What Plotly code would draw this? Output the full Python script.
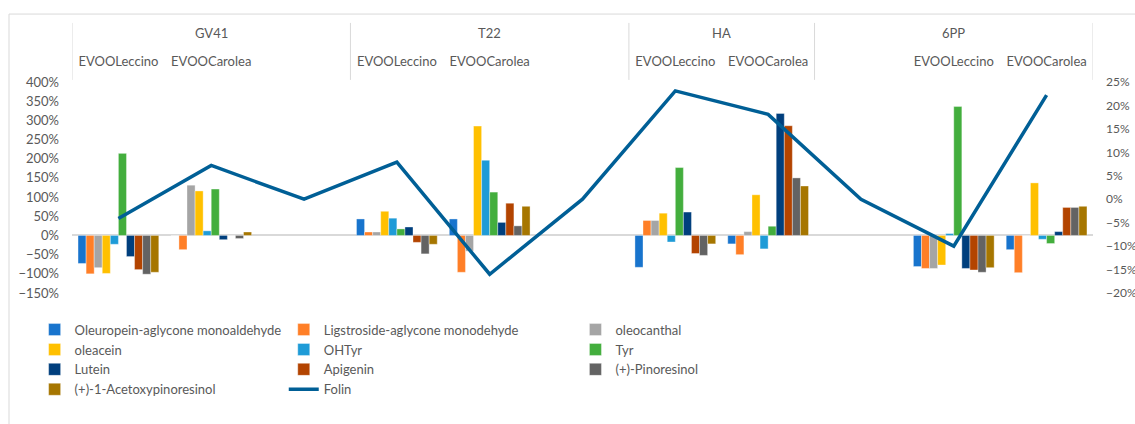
import plotly.graph_objects as go

# ---------------- data ----------------
groups = ["GV41", "GV41", "GV41", "T22", "T22", "T22", "HA", "HA", "6PP", "6PP", "6PP"]
cultivars = ["EVOOLeccino", "EVOOCarolea", "", "EVOOLeccino", "EVOOCarolea", "",
             "EVOOLeccino", "EVOOCarolea", "", "EVOOLeccino", "EVOOCarolea"]

series_names = [
    "Oleuropein-aglycone monoaldehyde", "Ligstroside-aglycone monodehyde", "oleocanthal",
    "oleacein", "OHTyr", "Tyr",
    "Lutein", "Apigenin", "(+)-Pinoresinol",
    "(+)-1-Acetoxypinoresinol",
]

oleuropein = [-73, 0, None, 43, 43, None, -83, -22, None, -81, -37]
ligstroside = [-100, -37, None, 9, -96, None, 39, -50, None, -86, -97]
oleocanthal = [-84, 131, None, 9, -41, None, 39, 10, None, -86, 0]
oleacein = [-99, 116, None, 63, 285, None, 58, 106, None, -77, 137]
ohtyr = [-23, 12, None, 45, 196, None, -17, -35, None, 5, -10]
tyr = [214, 121, None, 17, 113, None, 177, 24, None, 336, -21]
lutein = [-55, -11, None, 22, 34, None, 61, 318, None, -86, 10]
apigenin = [-89, 0, None, -18, 84, None, -47, 286, None, -90, 73]
pinoresinol = [-101, -8, None, -48, 25, None, -52, 150, None, -96, 73]
acetoxypinoresinol = [-96, 9, None, -23, 76, None, -22, 129, None, -84, 76]

folin_name = "Folin"
folin = [-4.1, 7.2, 0, 7.9, -16.0, 0, 23.1, 18.1, 0, -10.0, 22.2]

series_values = [oleuropein, ligstroside, oleocanthal, oleacein, ohtyr, tyr,
                 lutein, apigenin, pinoresinol, acetoxypinoresinol]

colors = ["#1874CD", "#FF7F27", "#A5A5A5", "#FFC000", "#1E9BD7", "#43AE3D",
          "#003F7D", "#B34400", "#636363", "#A67600"]
folin_color = "#005F96"

FONT = "Lato"
TXT = "#595959"
GRID = "#D9D9D9"

# unique category keys (group + cultivar + position)
keys = [f"{g}|{c}|{i}" for i, (g, c) in enumerate(zip(groups, cultivars))]

fig = go.Figure()
legend_ids = ["legend", "legend2", "legend3"]
for i, (name, vals, col) in enumerate(zip(series_names, series_values, colors)):
    fig.add_trace(go.Bar(
        x=keys, y=vals, name=name,
        marker=dict(color=col, line=dict(color="rgba(255,255,255,0.6)", width=0.6)),
        legend=legend_ids[i % 3],
    ))

fig.add_trace(go.Scatter(
    x=keys, y=folin, name=folin_name, mode="lines",
    line=dict(color=folin_color, width=3.5),
    yaxis="y2", legend=legend_ids[len(series_names) % 3],
))

# group labels and dividers on the top category axis
shapes = []
annotations = []
uniq = []
for g in groups:
    if g not in uniq:
        uniq.append(g)
for g in uniq:
    idx = [i for i, gg in enumerate(groups) if gg == g]
    annotations.append(dict(
        x=(idx[0] + idx[-1]) / 2, y=1.232, xref="x", yref="paper", yanchor="middle",
        text=g, showarrow=False, font=dict(family=FONT, size=13, color=TXT),
    ))
bounds = [-0.5] + [i + 0.5 for i in range(len(groups) - 1) if groups[i] != groups[i + 1]] + [len(groups) - 0.5]
for b in bounds:
    shapes.append(dict(type="line", xref="x", yref="paper", x0=b, x1=b, y0=1.01, y1=1.28,
                       line=dict(color=GRID, width=1)))

# chart-area frame (top and left edges)
shapes.append(dict(type="line", xref="paper", yref="paper", x0=-0.0617, x1=1.2, y0=1.322, y1=1.322,
                   line=dict(color=GRID, width=1)))
shapes.append(dict(type="line", xref="paper", yref="paper", x0=-0.0617, x1=-0.0617, y0=1.322, y1=-1.0,
                   line=dict(color=GRID, width=1)))

leg_common = dict(
    orientation="v", xref="container", yref="container", xanchor="left", yanchor="top",
    bgcolor="rgba(0,0,0,0)", font=dict(family=FONT, size=13, color=TXT), traceorder="normal",
)
leg_y = 0.258

fig.update_layout(
    width=1135, height=424,
    margin=dict(l=72, r=42, t=82, b=131, pad=0, autoexpand=False),
    paper_bgcolor="white", plot_bgcolor="white",
    font=dict(family=FONT, size=13, color=TXT),
    barmode="group", bargap=0.13, bargroupgap=0,
    xaxis=dict(
        type="category", side="top", range=[-0.5, len(keys) - 0.5],
        tickmode="array", tickvals=keys, ticktext=cultivars, tickangle=0,
        showgrid=False, zeroline=False, showline=False, ticks="", automargin=False,
        ticklabelstandoff=12, tickfont=dict(family=FONT, size=13, color=TXT),
    ),
    yaxis=dict(
        range=[-150, 400], dtick=50, ticksuffix="%", showgrid=False, automargin=False,
        zeroline=True, zerolinecolor=GRID, zerolinewidth=1.5, showline=False, ticks="",
        ticklabelstandoff=12, tickfont=dict(family=FONT, size=13, color=TXT),
    ),
    yaxis2=dict(
        overlaying="y", side="right", range=[-20, 25], dtick=5, ticksuffix="%", automargin=False,
        showgrid=False, zeroline=False, showline=False, ticks="",
        ticklabelstandoff=12, tickfont=dict(family=FONT, size=12, color=TXT),
    ),
    legend=dict(x=0.0305, y=leg_y, **leg_common),
    legend2=dict(x=0.250, y=leg_y, **leg_common),
    legend3=dict(x=0.507, y=leg_y, **leg_common),
    shapes=shapes,
    annotations=annotations,
)

fig.write_html("out.html", config={"displayModeBar": False},
               post_script="document.body.style.margin='0';document.body.style.overflow='hidden';")
